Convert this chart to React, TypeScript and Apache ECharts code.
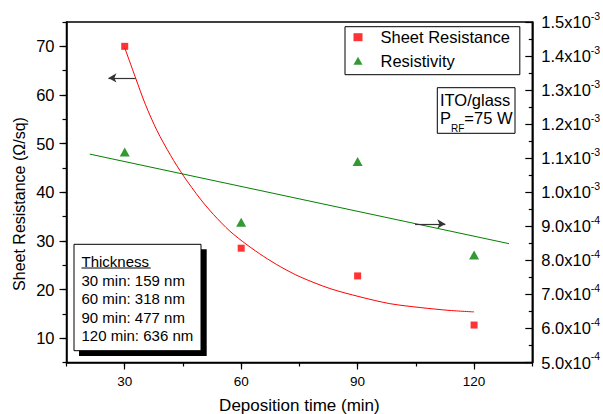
import React, { useEffect, useRef } from "react";
import * as echarts from "echarts";

// ---- data ----
const depositionTime = [30, 60, 90, 120];
const sheetResistance = [70.0, 28.5, 22.8, 12.7];
const resistivity = [1.118e-3, 9.12e-4, 1.09e-3, 8.16e-4];

// exponential-decay fit curve
const sheetFitX = [30, 32.8, 35.3, 38.3, 41.8, 45.2, 49.5, 52.9, 57.1, 61.5, 65.8, 70.1, 75.2, 82.9, 90.6, 98.3, 106.1, 113.8, 120];
const sheetFitY = [69.7, 63.5, 58.1, 52.7, 47.6, 43.3, 38.6, 35.4, 32.0, 29.2, 26.8, 24.7, 22.6, 20.2, 18.5, 17.1, 16.3, 15.7, 15.4];

// linear fit line for resistivity
const resistivityFitX = [21, 129];
const resistivityFitY = [1.112e-3, 8.49e-4];

const xTickLabels = [30, 60, 90, 120];
const leftTickLabels = [10, 20, 30, 40, 50, 60, 70];
const thicknessTitle = "Thickness";
const thicknessLines = ["30 min: 159 nm", "60 min: 318 nm", "90 min: 477 nm", "120 min: 636 nm"];

const FONT = "'Liberation Sans', Arial, sans-serif";
const E4 = 1e4; // right axis drawn in units of 1e-4

export default function App() {
  const ref = useRef<HTMLDivElement>(null);

  useEffect(() => {
    if (!ref.current) return;
    const chart = echarts.init(ref.current, undefined, { renderer: "svg" });

    const grid = { left: 66.5, right: 70.7, top: 22, bottom: 51.5 };

    const option: any = {
      animation: false,
      backgroundColor: "#fff",
      textStyle: { fontFamily: FONT },
      grid: {
        ...grid,
        show: true,
        borderColor: "#000",
        borderWidth: 1.5,
        backgroundColor: "transparent",
        outerBoundsMode: "none",
        containLabel: false,
      },
      legend: {
        show: true,
        orient: "vertical",
        left: 345,
        top: 26.7,
        selectedMode: false,
        itemWidth: 9,
        itemHeight: 8,
        itemGap: 5.5,
        padding: [1.5, 10, 5, 8.5],
        borderColor: "#000",
        borderWidth: 1,
        backgroundColor: "#fff",
        textStyle: { fontSize: 16.5, color: "#000", fontFamily: FONT, lineHeight: 18, padding: [0, 0, 0, 13] },
        data: [
          { name: "Sheet Resistance", icon: "rect" },
          { name: "Resistivity", icon: "triangle" },
        ],
      },
      xAxis: [
        {
          type: "value",
          min: 15,
          max: 135,
          interval: 15,
          position: "bottom",
          axisLine: { show: true, lineStyle: { color: "#000", width: 1.5 } },
          axisTick: { show: true, length: 4, lineStyle: { color: "#000", width: 1.2 } },
          axisLabel: { show: false },
          splitLine: { show: false },
        },
        {
          type: "value",
          min: 15,
          max: 135,
          position: "bottom",
          axisLine: { show: false },
          axisTick: { show: true, length: 7, customValues: xTickLabels, lineStyle: { color: "#000", width: 1.2 } },
          axisLabel: { show: true, customValues: xTickLabels, fontSize: 13.5, color: "#000", margin: 12, fontFamily: FONT },
          splitLine: { show: false },
          name: "Deposition time (min)",
          nameLocation: "middle",
          nameGap: 34,
          nameTextStyle: { fontSize: 17, color: "#000", fontFamily: FONT },
        },
      ],
      yAxis: [
        {
          type: "value",
          min: 5,
          max: 75,
          interval: 5,
          position: "left",
          axisLine: { show: true, lineStyle: { color: "#000", width: 1.5 } },
          axisTick: { show: true, length: 4, lineStyle: { color: "#000", width: 1.2 } },
          axisLabel: { show: false },
          splitLine: { show: false },
        },
        {
          type: "value",
          min: 5,
          max: 75,
          position: "left",
          axisLine: { show: false },
          axisTick: { show: true, length: 7, customValues: leftTickLabels, lineStyle: { color: "#000", width: 1.2 } },
          axisLabel: { show: true, customValues: leftTickLabels, fontSize: 16.5, color: "#000", margin: 12, fontFamily: FONT },
          splitLine: { show: false },
        },
        {
          type: "value",
          min: 5,
          max: 15,
          interval: 1,
          position: "right",
          axisLine: { show: true, lineStyle: { color: "#000", width: 1.5 } },
          axisTick: { show: true, inside: true, length: 7, lineStyle: { color: "#000", width: 1.2 } },
          minorTick: { show: true, splitNumber: 2, length: 3.5, lineStyle: { color: "#000", width: 1.2 } },
          axisLabel: {
            show: true,
            margin: 9,
            formatter: (v: number) => {
              const r = Math.round(v * 10) / 10;
              if (r >= 10) return `{m|${(r / 10).toFixed(1)}x10}{s|-3}`;
              return `{m|${r.toFixed(1)}x10}{s|-4}`;
            },
            rich: {
              m: { fontSize: 16.5, color: "#000", fontFamily: FONT, lineHeight: 24 },
              s: { fontSize: 10.5, color: "#000", fontFamily: FONT, lineHeight: 11, verticalAlign: "top" },
            },
          },
          splitLine: { show: false },
        },
      ],
      series: [
        {
          name: "Sheet Resistance fit",
          type: "line",
          xAxisIndex: 0,
          yAxisIndex: 0,
          smooth: 0.3,
          showSymbol: false,
          symbol: "none",
          silent: true,
          lineStyle: { color: "#ff0000", width: 1 },
          data: sheetFitX.map((x, i) => [x, sheetFitY[i]]),
          markLine: {
            silent: true,
            symbol: ["none", "arrow"],
            symbolSize: [7, 8],
            label: { show: false },
            lineStyle: { color: "#333", width: 1.2, type: "solid" },
            data: [[{ coord: [32.8, 63.5] }, { coord: [25.8, 63.5] }]],
          },
        },
        {
          name: "Resistivity fit",
          type: "line",
          xAxisIndex: 0,
          yAxisIndex: 2,
          showSymbol: false,
          symbol: "none",
          silent: true,
          lineStyle: { color: "#008000", width: 1 },
          data: resistivityFitX.map((x, i) => [x, resistivityFitY[i] * E4]),
          markLine: {
            silent: true,
            symbol: ["none", "arrow"],
            symbolSize: [7, 8],
            label: { show: false },
            lineStyle: { color: "#333", width: 1.2, type: "solid" },
            data: [[{ coord: [104.8, 9.07] }, { coord: [112.6, 9.07] }]],
          },
        },
        {
          name: "Sheet Resistance",
          type: "scatter",
          xAxisIndex: 0,
          yAxisIndex: 0,
          symbol: "rect",
          symbolSize: 7,
          itemStyle: { color: "#ff0000" },
          data: depositionTime.map((x, i) => [x, sheetResistance[i]]),
          z: 5,
        },
        {
          name: "Resistivity",
          type: "scatter",
          xAxisIndex: 0,
          yAxisIndex: 2,
          symbol: "triangle",
          symbolSize: [10, 9],
          itemStyle: { color: "#008000" },
          data: depositionTime.map((x, i) => [x, resistivity[i] * E4]),
          z: 5,
        },
      ],
      graphic: [
        {
          type: "text",
          x: 19,
          y: 204,
          rotation: Math.PI / 2,
          style: {
            text: "Sheet Resistance (Ω/sq)",
            fontSize: 16,
            fontFamily: FONT,
            fill: "#000",
            align: "center",
            verticalAlign: "middle",
          },
        },
        // ITO/glass box
        {
          type: "rect",
          shape: { x: 437.3, y: 87.7, width: 77.7, height: 45.6 },
          style: { fill: "#fff", stroke: "#000", lineWidth: 1 },
          z: 10,
        },
        {
          type: "text",
          x: 440,
          y: 100,
          z: 11,
          style: { text: "ITO/glass", fontSize: 16.5, fontFamily: FONT, fill: "#000", align: "left", verticalAlign: "middle" },
        },
        {
          type: "text",
          x: 440,
          y: 118,
          z: 11,
          style: {
            text: "{p|P}{s|RF}{p|=75 W}",
            align: "left",
            verticalAlign: "middle",
            rich: {
              p: { fontSize: 16.5, fontFamily: FONT, fill: "#000", lineHeight: 30 },
              s: { fontSize: 10, fontFamily: FONT, fill: "#000", lineHeight: 10, verticalAlign: "bottom" },
            },
          },
        },
        // Thickness box
        {
          type: "rect",
          shape: { x: 79, y: 249.3, width: 127.7, height: 106.7 },
          style: { fill: "#000" },
          z: 10,
        },
        {
          type: "rect",
          shape: { x: 74, y: 244.3, width: 127, height: 106.4 },
          style: { fill: "#fff", stroke: "#000", lineWidth: 1 },
          z: 11,
        },
        {
          type: "text",
          x: 81.5,
          y: 261,
          z: 12,
          style: { text: thicknessTitle, fontSize: 15, fontFamily: FONT, fill: "#000", align: "left", verticalAlign: "middle" },
        },
        {
          type: "line",
          shape: { x1: 81.5, y1: 268, x2: 150.7, y2: 268 },
          style: { stroke: "#000", lineWidth: 1 },
          z: 12,
        },
        ...thicknessLines.map((t, i) => ({
          type: "text",
          x: 81.5,
          y: 280 + i * 18.6,
          z: 12,
          style: { text: t, fontSize: 15, fontFamily: FONT, fill: "#000", align: "left", verticalAlign: "middle" },
        })),
      ],
    };

    chart.setOption(option);
    return () => chart.dispose();
  }, []);

  return (
    <div
      ref={ref}
      style={{ position: "fixed", left: 0, top: 0, width: 603, height: 414, background: "#fff" }}
    />
  );
}
